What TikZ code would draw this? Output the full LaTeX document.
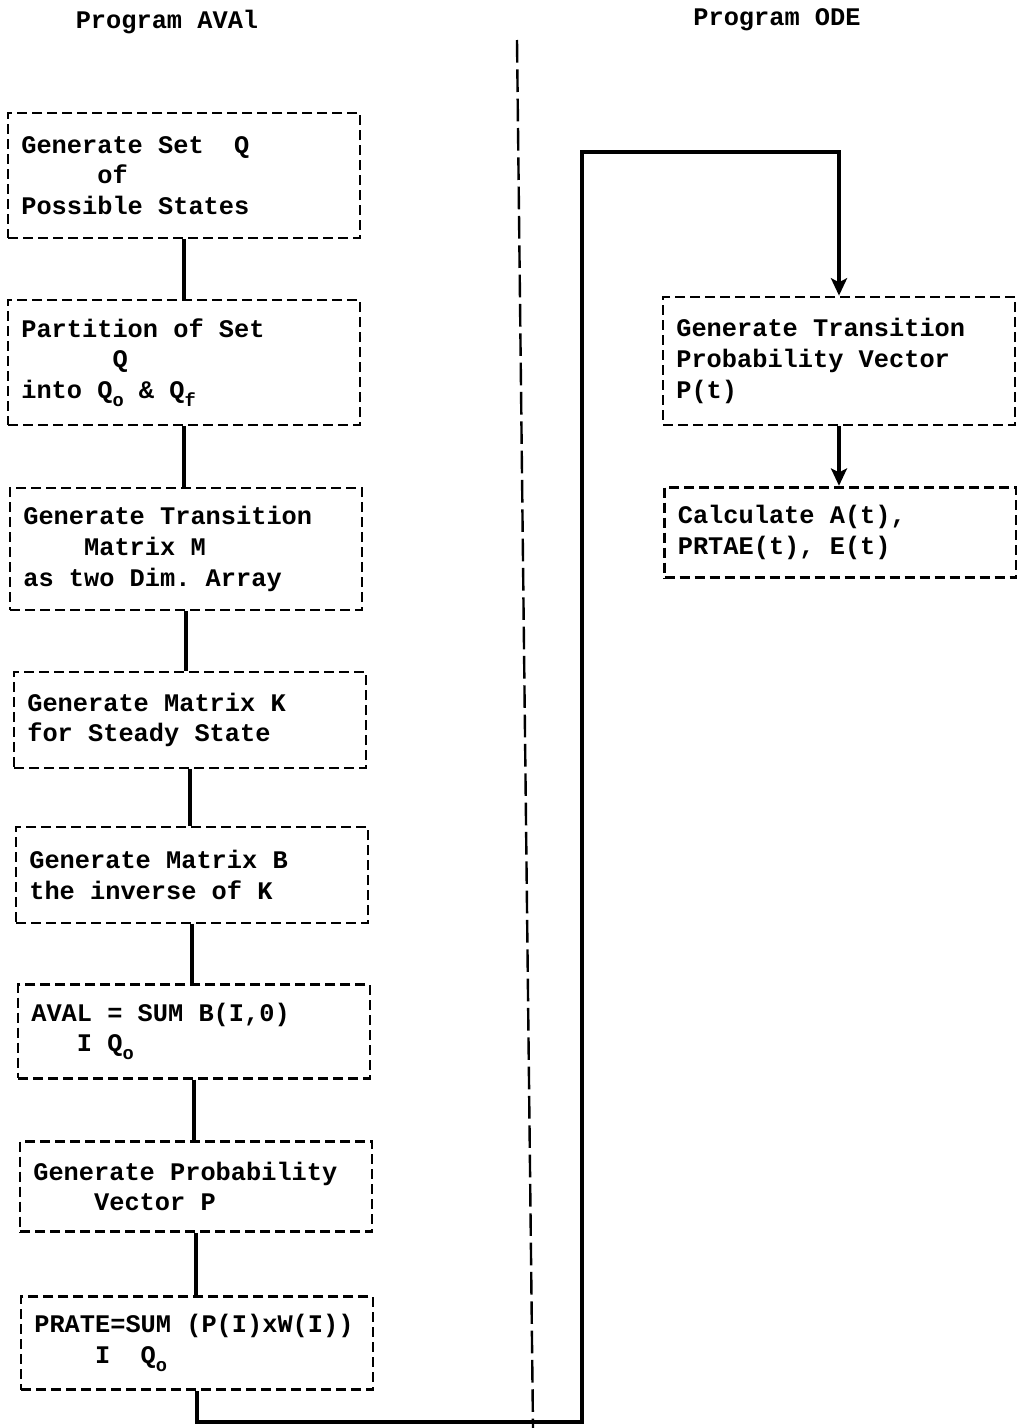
\documentclass[tikz,border=0pt]{standalone}
\usepackage{fontspec}
\setmainfont{Liberation Mono}
\usetikzlibrary{arrows.meta}
\newcommand{\lowsub}[1]{\raisebox{-6pt}{\fontsize{14}{14}\selectfont #1}}

\begin{document}
\begin{tikzpicture}[x=0.75pt,y=-0.75pt,
  stepbox/.style={draw,line width=2.1pt,dash pattern=on 7.5pt off 3.75pt,
    minimum width=264pt,text width=244pt,inner xsep=10pt,align=flush left,
    font=\fontsize{19}{23}\selectfont\bfseries,
    execute at begin node={\spaceskip=0.6em\relax\xspaceskip=0.6em\relax}},
  title/.style={font=\fontsize{19}{23}\selectfont\bfseries},
  link/.style={line width=3pt},
  flow/.style={line width=3pt,-{Stealth[length=13pt,width=12pt,inset=3pt]}}]
  \useasboundingbox (0,0) rectangle (1017,1428);
  % titles and divider
  \node[title] (tava) at (167,22) {Program AVAl};
  \node[title] (tode) at (777,20) {Program ODE};
  \coordinate (divtop) at (517,40);
  \coordinate (divbot) at (533,1428);
  \draw[line width=1.8pt,dash pattern=on 17pt off 5pt] (divtop) -- (divbot);
  % program AVAl
  \node[stepbox,minimum height=93.75pt] (b1) at (184,175.5)
    {Generate Set\ \ Q\\\hphantom{xxxxx}of\\Possible States};
  \node[stepbox,minimum height=93.75pt] (b2) at (184,362.5)
    {Partition of Set\\\hphantom{xxxxxx}Q\\into Q\lowsub{o} \& Q\lowsub{f}};
  \node[stepbox,minimum height=91.5pt] (b3) at (186,549)
    {Generate Transition\\\hphantom{xxxx}Matrix M\\as two Dim. Array};
  \node[stepbox,minimum height=72pt] (b4) at (190,720)
    {Generate Matrix K\\for Steady State};
  \node[stepbox,minimum height=72pt] (b5) at (192,875)
    {Generate Matrix B\\the inverse of K};
  \node[stepbox,minimum height=70pt] (b6) at (194,1031.5)
    {AVAL = SUM B(I,0)\\\hphantom{xxx}I\ Q\lowsub{o}};
  \node[stepbox,minimum height=68pt] (b7) at (196,1186.5)
    {Generate Probability\\\hphantom{xxxx}Vector P};
  \node[stepbox,minimum height=70pt] (b8) at (197,1343)
    {PRATE=SUM (P(I)xW(I))\\\hphantom{xxxx}I\ \ Q\lowsub{o}};
  % program ODE
  \node[stepbox,minimum height=96pt] (r1) at (839,361)
    {Generate Transition\\Probability Vector\\P(t)};
  \node[stepbox,minimum height=68pt] (r2) at (840.5,532.5)
    {Calculate A(t),\\PRTAE(t), E(t)};
  % connectors
  \foreach \aa/\bb in {b1/b2,b2/b3,b3/b4,b4/b5,b5/b6,b6/b7,b7/b8}
    \draw[link] (\aa.south) -- (\aa.south |- \bb.north);
  \coordinate (turnA) at (582,1422);
  \coordinate (turnB) at (582,152);
  \draw[flow,line join=miter] (b8.south) |- (turnA) -- (turnB) -| (r1.north);
  \draw[flow] (r1.south) -- (r1.south |- r2.north);
\end{tikzpicture}
\end{document}
